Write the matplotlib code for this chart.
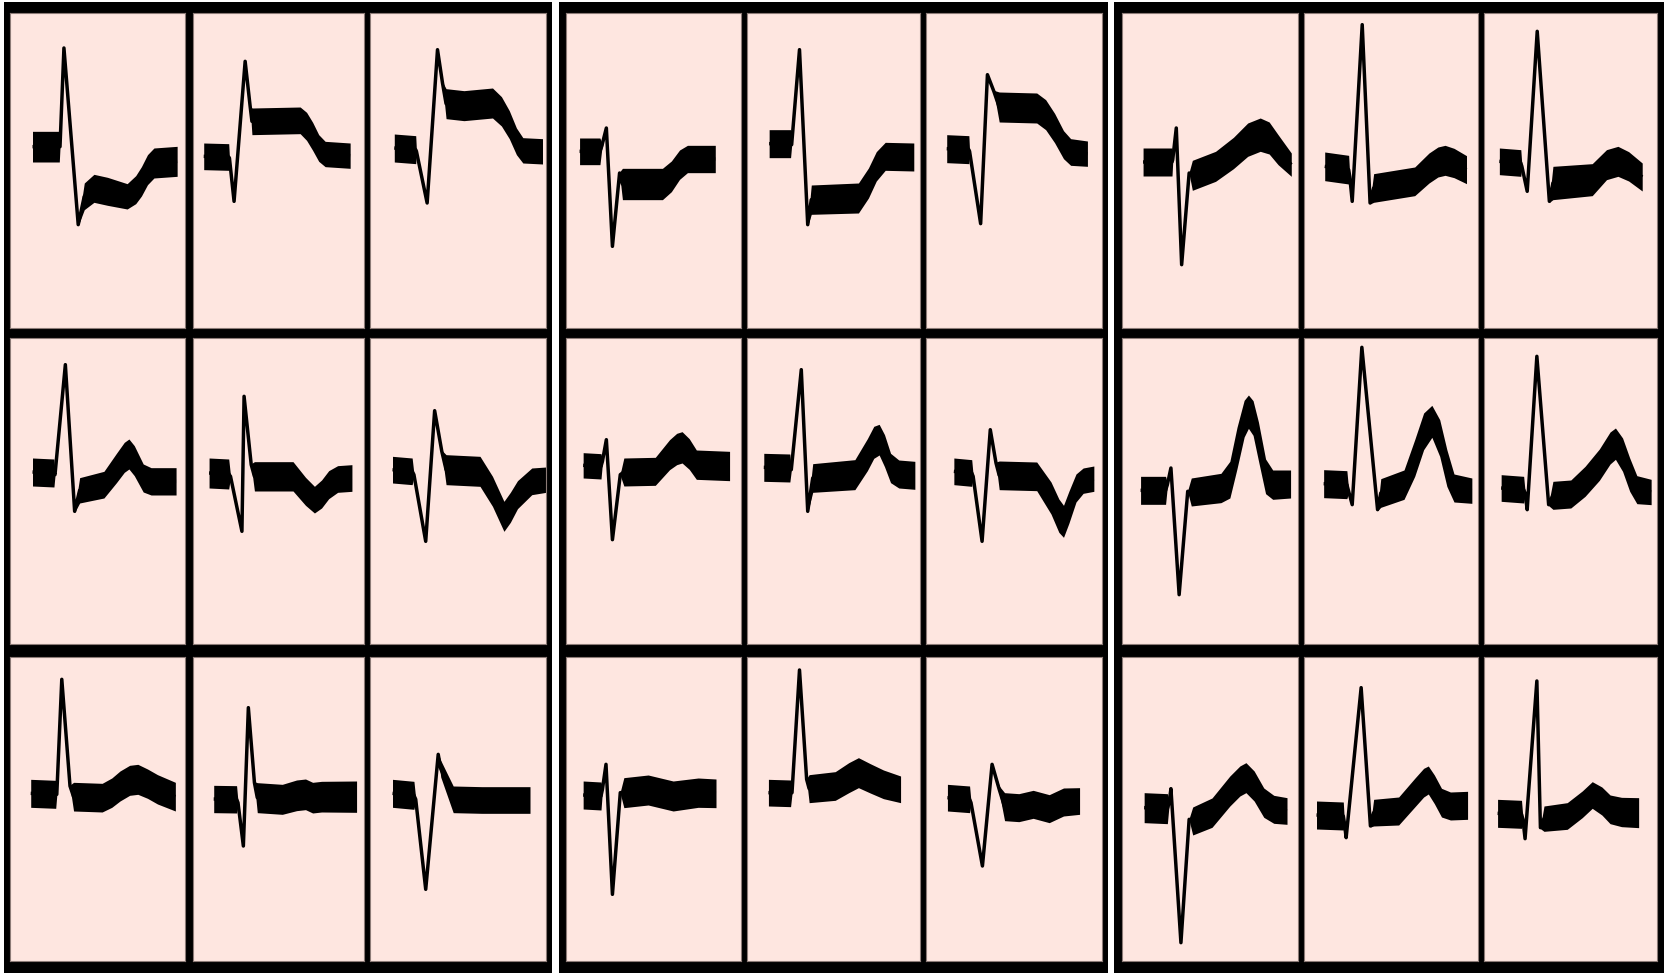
import matplotlib
matplotlib.use("Agg")
import matplotlib.pyplot as plt

# averaged beats, one list per panel: (time, amplitude, beat-to-beat spread)
# row 1
r1c1 = [(63, 544, 46), (138, 544, 46), (140, 544, 3), (151, 840, 3), (191, 310, 3), (208, 395, 40),
        (235, 419, 42), (273, 410, 42), (328, 395, 38), (352, 415, 42), (368, 440, 44), (385, 475, 45),
        (403, 495, 45), (468, 500, 45)]
r1c2 = [(30, 515, 40), (100, 513, 40), (102, 510, 3), (115, 380, 3), (146, 800, 3), (160, 665, 3),
        (165, 620, 40), (300, 623, 40), (318, 605, 42), (335, 575, 42), (352, 540, 40), (370, 522, 38),
        (440, 517, 38)]
r1c3 = [(68, 540, 42), (128, 535, 42), (130, 530, 3), (160, 375, 3), (189, 835, 3), (203, 735, 3),
        (213, 673, 45), (263, 667, 45), (343, 675, 45), (368, 650, 44), (390, 610, 42), (410, 560, 40),
        (428, 533, 38), (483, 530, 38)]
r1c4 = [(38, 530, 40), (95, 530, 40), (100, 545, 10), (113, 600, 3), (130, 245, 3), (150, 465, 3),
        (158, 432, 47), (270, 432, 47), (295, 455, 46), (318, 490, 44), (340, 507, 41), (418, 507, 41)]
r1c5 = [(62, 553, 42), (122, 553, 42), (125, 550, 3), (147, 835, 3), (170, 310, 3), (180, 385, 44),
        (312, 390, 45), (340, 435, 45), (362, 485, 44), (387, 515, 42), (467, 513, 42)]
r1c6 = [(58, 538, 42), (120, 535, 42), (122, 530, 3), (153, 313, 3), (172, 760, 3), (190, 710, 3),
        (205, 663, 45), (310, 660, 45), (335, 640, 45), (360, 600, 44), (385, 550, 42), (405, 528, 40),
        (452, 523, 38)]
r1c7 = [(59, 498, 42), (140, 498, 42), (142, 505, 8), (152, 600, 3), (167, 190, 3), (188, 465, 3),
        (197, 458, 45), (262, 485, 45), (312, 525, 47), (352, 565, 50), (387, 580, 50), (412, 570, 48),
        (437, 535, 45), (474, 490, 35)]
r1c8 = [(58, 485, 43), (125, 475, 43), (128, 455, 5), (135, 380, 3), (163, 910, 3), (185, 375, 3),
        (195, 420, 43), (310, 440, 43), (350, 480, 45), (375, 498, 45), (395, 503, 45), (420, 495, 44),
        (455, 475, 42)]
r1c9 = [(43, 500, 40), (103, 495, 40), (106, 485, 5), (121, 410, 3), (149, 890, 3), (183, 380, 3),
        (193, 435, 50), (303, 445, 48), (343, 490, 45), (375, 500, 45), (405, 485, 44), (443, 453, 42)]

# row 2
r2c1 = [(63, 516, 42), (123, 513, 42), (126, 508, 3), (155, 838, 3), (181, 398, 3), (195, 461, 38),
        (263, 478, 40), (298, 528, 44), (320, 560, 45), (333, 570, 45), (348, 550, 45), (373, 498, 42),
        (395, 488, 41), (465, 488, 41)]
r2c2 = [(45, 513, 45), (100, 510, 45), (105, 503, 3), (137, 338, 3), (143, 743, 3), (163, 538, 3),
        (172, 503, 44), (280, 503, 44), (315, 458, 42), (340, 433, 40), (360, 450, 42), (380, 478, 42),
        (405, 495, 40), (445, 498, 40)]
r2c3 = [(63, 523, 40), (118, 518, 40), (123, 508, 3), (156, 308, 3), (181, 700, 3), (201, 578, 3),
        (213, 523, 45), (308, 518, 45), (343, 458, 45), (375, 383, 45), (393, 410, 45), (413, 448, 42),
        (453, 488, 40), (493, 493, 38)]
r2c4 = [(48, 536, 38), (98, 533, 38), (102, 548, 5), (113, 613, 3), (130, 313, 3), (152, 508, 3),
        (162, 516, 42), (250, 518, 42), (290, 568, 45), (310, 585, 47), (325, 590, 47), (345, 570, 46),
        (365, 538, 44), (458, 534, 44)]
r2c5 = [(47, 530, 42), (120, 528, 42), (124, 523, 3), (152, 823, 3), (170, 398, 3), (184, 498, 43),
        (302, 508, 45), (337, 568, 48), (355, 605, 48), (370, 613, 46), (385, 580, 48), (402, 528, 44),
        (425, 510, 42), (470, 506, 42)]
r2c6 = [(78, 518, 40), (128, 513, 40), (132, 503, 3), (157, 308, 3), (180, 643, 3), (196, 543, 3),
        (205, 506, 43), (310, 503, 43), (350, 438, 48), (372, 385, 50), (385, 368, 48), (400, 410, 48),
        (420, 468, 42), (440, 490, 38), (470, 496, 38)]
r2c7 = [(52, 461, 42), (122, 461, 42), (127, 478, 5), (137, 528, 3), (160, 148, 3), (184, 458, 3),
        (194, 456, 42), (277, 468, 44), (302, 493, 55), (322, 588, 62), (342, 676, 55), (354, 697, 50),
        (367, 678, 52), (382, 608, 58), (402, 503, 52), (422, 478, 44), (472, 480, 42)]
r2c8 = [(55, 481, 42), (120, 478, 42), (125, 458, 5), (135, 418, 3), (162, 890, 3), (206, 403, 3),
        (215, 453, 43), (280, 478, 44), (310, 558, 55), (335, 638, 55), (358, 668, 48), (380, 618, 55),
        (400, 528, 55), (420, 468, 42), (470, 460, 38)]
r2c9 = [(48, 468, 40), (111, 463, 40), (115, 453, 5), (121, 403, 3), (148, 863, 3), (181, 418, 3),
        (193, 446, 42), (243, 450, 42), (283, 488, 45), (323, 538, 47), (353, 588, 48), (368, 601, 47),
        (388, 568, 50), (408, 508, 50), (428, 463, 42), (468, 456, 38)]

# row 3
r3c1 = [(58, 503, 42), (128, 500, 42), (131, 500, 3), (145, 845, 3), (168, 525, 3), (178, 493, 43),
        (258, 490, 43), (285, 505, 44), (308, 525, 45), (335, 542, 45), (358, 545, 45), (385, 532, 44),
        (413, 515, 44), (463, 493, 43)]
r3c2 = [(58, 486, 41), (122, 485, 41), (126, 475, 3), (141, 345, 3), (155, 760, 3), (172, 535, 3),
        (180, 490, 45), (250, 485, 45), (290, 497, 46), (315, 500, 46), (335, 490, 46), (360, 493, 46),
        (458, 493, 47)]
r3c3 = [(63, 503, 42), (123, 497, 42), (128, 485, 3), (156, 215, 3), (191, 620, 3), (198, 577, 25),
        (233, 485, 40), (313, 483, 40), (448, 483, 40)]
r3c4 = [(48, 498, 42), (98, 495, 42), (102, 515, 5), (112, 590, 3), (130, 200, 3), (152, 505, 3),
        (162, 505, 45), (230, 513, 45), (300, 495, 45), (370, 505, 44), (420, 503, 43)]
r3c5 = [(60, 505, 40), (122, 503, 40), (126, 505, 3), (147, 873, 3), (167, 545, 3), (174, 517, 42),
        (247, 525, 43), (285, 550, 45), (312, 565, 45), (345, 548, 44), (382, 530, 43), (430, 515, 40)]
r3c6 = [(60, 490, 40), (122, 485, 40), (126, 475, 3), (158, 285, 3), (185, 590, 3), (205, 515, 10),
        (220, 463, 42), (260, 460, 42), (300, 470, 42), (345, 457, 42), (385, 477, 42), (430, 480, 40)]
r3c7 = [(62, 460, 45), (127, 457, 45), (132, 475, 5), (137, 517, 3), (165, 55, 3), (188, 425, 3),
        (198, 420, 42), (252, 445, 44), (302, 510, 45), (330, 540, 45), (347, 550, 45), (370, 525, 45),
        (397, 475, 44), (425, 455, 42), (462, 450, 40)]
r3c8 = [(35, 438, 42), (110, 435, 42), (113, 415, 5), (118, 370, 3), (160, 820, 3), (186, 405, 3),
        (195, 445, 40), (265, 450, 42), (310, 505, 43), (335, 535, 43), (348, 543, 42), (365, 515, 43),
        (385, 475, 43), (410, 465, 42), (458, 467, 42)]
r3c9 = [(38, 443, 42), (105, 440, 42), (109, 425, 5), (115, 367, 3), (148, 840, 3), (158, 400, 3),
        (168, 427, 38), (233, 435, 40), (275, 470, 40), (303, 498, 40), (330, 480, 42), (353, 455, 43),
        (385, 447, 44), (433, 445, 45)]

BEATS = [
    [r1c1, r1c2, r1c3, r1c4, r1c5, r1c6, r1c7, r1c8, r1c9],
    [r2c1, r2c2, r2c3, r2c4, r2c5, r2c6, r2c7, r2c8, r2c9],
    [r3c1, r3c2, r3c3, r3c4, r3c5, r3c6, r3c7, r3c8, r3c9],
]

# layout in pixels
W, H = 1664, 973
PINK = "#fee6e0"
BLOCKS = [(3.5, 552), (559, 1108), (1114, 1664)]
COLS = [(10, 185), (193, 364), (370, 546),
        (566, 741), (747, 920), (926, 1102),
        (1122, 1298), (1304, 1478), (1484, 1657)]
ROWS = [(13, 328), (338, 644), (657, 961)]
T_PER_PX = 2.8
A_PER_PX = 3.0


def plain(ax):
    ax.set_xticks([])
    ax.set_yticks([])


def main():
    fig = plt.figure(figsize=(W / 100, H / 100), dpi=100)
    fig.patch.set_facecolor("white")

    # black frame behind each 3x3 block
    for x0, x1 in BLOCKS:
        bg = fig.add_axes([x0 / W, 0, (x1 - x0) / W, (H - 2) / H])
        bg.set_facecolor("black")
        plain(bg)
        for sp in bg.spines.values():
            sp.set_visible(False)

    for r, (y0, y1) in enumerate(ROWS):
        for c, (x0, x1) in enumerate(COLS):
            ax = fig.add_axes([x0 / W, 1 - y1 / H, (x1 - x0) / W, (y1 - y0) / H])
            ax.set_facecolor(PINK)
            plain(ax)
            for sp in ax.spines.values():
                sp.set_color("#8c7b77")
                sp.set_linewidth(0.8)

            beat = BEATS[r][c]
            t = [p[0] for p in beat]
            v = [p[1] for p in beat]
            s = [p[2] for p in beat]
            lo = [a - b for a, b in zip(v, s)]
            hi = [a + b for a, b in zip(v, s)]
            ax.fill_between(t, lo, hi, color="black", linewidth=0)
            ax.plot(t, v, color="black", linewidth=2.5,
                    solid_capstyle="butt", solid_joinstyle="round")

            ax.set_xlim(0, (x1 - x0) * T_PER_PX)
            ax.set_ylim(0, (y1 - y0) * A_PER_PX)

    fig.savefig("out.png", dpi=100)


if __name__ == "__main__":
    main()
